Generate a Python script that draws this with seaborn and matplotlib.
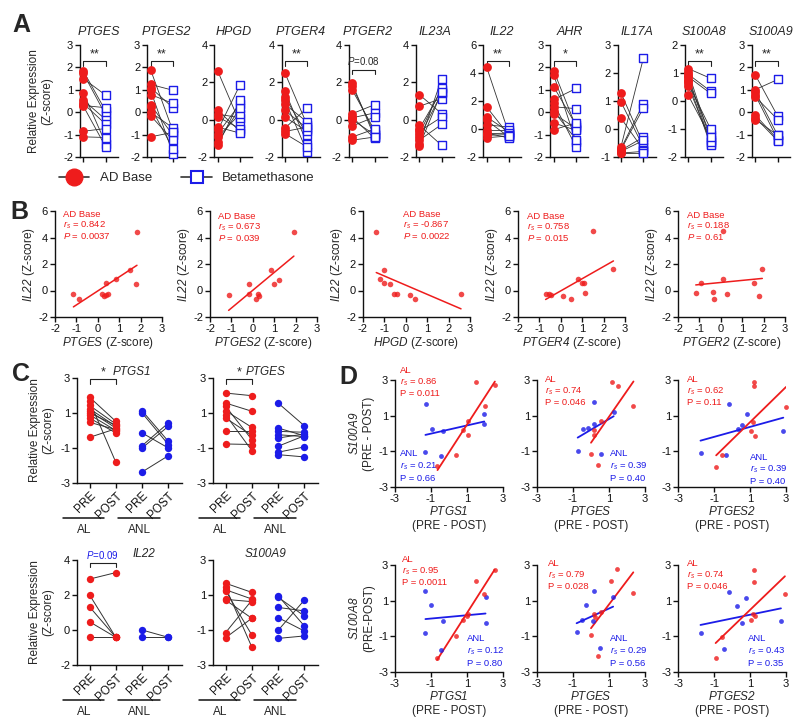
import numpy as np
import pandas as pd
import matplotlib
matplotlib.use('Agg')
import matplotlib.pyplot as plt
import matplotlib.transforms as mtransforms
from matplotlib.lines import Line2D
import seaborn as sns

sns.set_style('ticks')
plt.rcParams['font.family'] = ['Liberation Sans', 'DejaVu Sans']
plt.rcParams['mathtext.fontset'] = 'custom'
plt.rcParams['mathtext.rm'] = 'Liberation Sans:italic'
plt.rcParams['mathtext.it'] = 'Liberation Sans:italic'
plt.rcParams['mathtext.bf'] = 'Liberation Sans:bold'
plt.rcParams['axes.unicode_minus'] = False

RED = '#ee1c1c'
BLUE = '#1c1ce8'

# ---------------- Panel A data (AD Base -> Betamethasone, paired) ----------------
a_genes = ['PTGES', 'PTGES2', 'HPGD', 'PTGER4', 'PTGER2', 'IL23A', 'IL22', 'AHR', 'IL17A', 'S100A8', 'S100A9']
ptges_base = [1.84, 1.73, 1.50, 0.87, 0.54, 0.39, 0.30, 0.27, -0.85, -1.10]
ptges_beta = [0.05, -0.13, 0.76, -1.40, -0.33, -0.54, 0.20, -1.55, -0.73, -1.13]
ptges2_base = [1.90, 1.24, 1.10, 0.98, 0.79, 0.34, 0.24, 0.00, -0.15, -1.10]
ptges2_beta = [-0.84, 0.98, 0.20, -1.85, 0.39, -1.03, -1.63, -0.70, -1.25, -0.90]
hpgd_base = [2.60, 0.50, 0.30, 0.15, -0.40, -0.57, -0.75, -0.93, -1.20, -1.38]
hpgd_beta = [-0.20, -0.63, 0.10, -0.48, -0.72, 1.88, 0.86, 0.32, 0.63, 1.04]
ptger4_base = [2.50, 1.52, 1.22, 1.04, 0.82, 0.50, 0.14, -0.45, -0.63, -0.75]
ptger4_beta = [-0.30, -1.29, -0.84, -1.74, -0.13, -0.48, -0.63, 0.63, -0.40, -1.47]
ptger2_base = [1.94, 1.80, 1.60, 0.32, 0.14, 0.10, 0.00, -0.34, -0.93, -1.10]
ptger2_beta = [-0.93, -0.75, -0.57, 0.80, -1.00, 0.36, -0.80, 0.14, -0.50, -0.93]
il23a_base = [1.34, 0.72, -0.30, -0.48, -0.63, -0.75, -0.93, -1.10, -1.29, -1.41]
il23a_beta = [0.32, 1.13, -1.38, 1.58, 0.14, 1.70, 1.43, -0.25, 2.20, 1.50]
il22_base = [4.44, 1.58, 0.86, 0.62, 0.30, -0.10, -0.29, -0.33, -0.45, -0.62]
il22_beta = [-0.33, -0.45, -0.20, -0.57, 0.14, -0.10, -0.64, -0.30, -0.40, -0.50]
ahr_base = [1.85, 1.66, 1.13, 0.57, 0.39, 0.24, 0.04, -0.06, -0.48, -0.78]
ahr_beta = [-0.66, -1.33, -0.58, 1.06, -1.55, 0.16, -1.22, -0.73, -0.81, -0.48]
il17a_base = [1.29, 0.97, 0.39, -0.64, -0.70, -0.74, -0.76, -0.80, -0.86, -0.86]
il17a_beta = [-0.53, -0.64, -0.74, 2.52, 0.91, 0.75, -0.29, -0.41, -0.80, -0.86]
s100a8_base = [1.16, 1.04, 0.96, 0.90, 0.87, 0.75, 0.70, 0.63, 0.53, 0.21]
s100a8_beta = [0.81, -1.38, 0.35, -1.52, 0.27, -1.22, -1.58, -0.99, -1.45, -1.30]
s100a9_base = [1.66, 1.01, 0.91, 0.76, 0.69, -0.13, -0.24, -0.33]
s100a9_beta = [-0.18, 1.46, -1.03, -1.22, -0.33, -1.22, -1.28, -1.03]
a_sig = ['**', '**', '', '**', '$P$=0.08', '', '**', '*', '', '**', '**']

# ---------------- Panel B data (AD Base, x gene vs IL22) ----------------
b_genes = ['PTGES', 'PTGES2', 'HPGD', 'PTGER4', 'PTGER2']
b_ptges_x = [-1.14, -0.88, 0.19, 0.30, 0.39, 0.47, 0.39, 0.86, 1.52, 1.78, 1.83]
b_ptges_y = [-0.28, -0.65, -0.25, -0.45, -0.35, -0.25, 0.55, 0.85, 1.58, 0.50, 4.44]
b_ptges2_x = [-1.13, -0.17, -0.17, 0.14, 0.22, 0.30, 0.86, 0.98, 1.22, 1.92]
b_ptges2_y = [-0.33, 0.48, -0.25, -0.65, -0.28, -0.45, 1.55, 0.50, 0.80, 4.41]
b_hpgd_x = [-1.38, -1.00, -1.20, -1.00, -0.75, -0.55, -0.40, 0.20, 0.45, 2.58]
b_hpgd_y = [4.44, 1.58, 0.85, 0.55, 0.50, -0.25, -0.30, -0.35, -0.65, -0.25]
b_ptger4_x = [-0.71, -0.57, -0.45, 0.12, 0.48, 0.79, 0.99, 1.10, 1.13, 1.49, 2.46]
b_ptger4_y = [-0.25, -0.25, -0.33, -0.40, -0.65, 0.88, 0.55, 0.55, -0.20, 4.48, 1.60]
b_ptger2_x = [-1.17, -0.94, -0.36, -0.33, 0.08, 0.08, 0.31, 1.56, 1.80, 1.94]
b_ptger2_y = [-0.20, 0.55, -0.15, -0.65, 0.90, 4.50, -0.25, 0.60, -0.38, 1.60]
b_rs = ['0.842', '0.673', '-0.867', '0.758', '0.188']
b_p = ['0.0037', '0.039', '0.0022', '0.015', '0.61']

# ---------------- Panel C data (PRE / POST; AL and ANL) ----------------
c_genes = ['PTGS1', 'PTGES', 'IL22', 'S100A9']
c_groups = ['AL', 'ANL']
c_ticklabels = ['PRE', 'POST', 'PRE', 'POST']
ptgs1_al_pre = [1.90, 1.67, 1.43, 1.24, 1.10, 1.00, 0.90, 0.71, 0.47, -0.39]
ptgs1_al_post = [0.52, -1.82, 0.37, 0.24, 0.14, 0.30, 0.00, -0.14, 0.05, 0.10]
ptgs1_anl_pre = [1.13, 1.00, -0.14, -0.87, -1.00, -2.37]
ptgs1_anl_post = [-0.62, -0.80, -1.00, 0.43, 0.24, -1.44]
cptges_al_pre = [2.14, 1.57, 1.38, 1.13, 0.90, 0.71, -0.05, -0.77]
cptges_al_post = [1.99, 1.10, -0.52, 0.18, -1.15, -0.28, -0.05, -0.80]
cptges_anl_pre = [1.57, 0.14, -0.05, -0.24, -0.43, -0.90, -1.24, -1.38]
cptges_anl_post = [0.27, -0.30, -0.10, -0.35, -0.20, -0.30, -0.94, -1.51]
cil22_al_pre = [2.91, 2.00, 1.32, 0.47, -0.42]
cil22_al_post = [3.28, -0.42, -0.42, -0.42, -0.42]
cil22_anl_pre = [0.00, -0.42]
cil22_anl_post = [-0.42, -0.42]
cs100a9_al_pre = [1.67, 1.44, 1.30, 1.25, 0.75, 0.71, -1.15, -1.44]
cs100a9_al_post = [1.15, -1.98, 0.77, -1.29, 0.62, -0.33, 0.70, -0.33]
cs100a9_anl_pre = [0.96, 0.87, 0.29, -0.29, -1.02, -1.48]
cs100a9_anl_post = [-0.77, -0.20, 0.09, -1.06, 0.71, -1.34]

# ---------------- Panel D data (PRE - POST differences) ----------------
d_xgenes = ['PTGS1', 'PTGES', 'PTGES2']
# S100A9 row
d9_al_x = [[1.49, 2.55, 2.00, 0.79, 1.03, 1.03, 0.39, -0.64],
           [1.14, 1.48, 2.36, 0.55, 0.19, 0.19, 0.00, 0.37],
           [1.22, 1.22, 3.00, 1.15, 1.06, 1.30, -0.54, -0.88]]
d9_al_y = [[2.90, 2.70, 1.57, 0.21, 0.68, -0.07, -1.19, -1.80],
           [2.87, 2.68, 1.57, 0.68, 0.21, -0.07, -1.15, -1.79],
           [2.87, 2.68, 1.50, 0.62, 0.15, -0.12, -1.22, -1.88]]
d9_anl_x = [[-1.27, -0.97, -0.32, 1.96, 1.96, -1.31, -0.47],
            [0.18, -0.46, -0.18, 0.14, 1.26, -0.74, 0.55],
            [-0.14, 0.82, 0.56, 0.32, -1.75, -0.36, 2.85]]
d9_anl_y = [[1.67, 0.27, 0.16, 1.11, 0.53, -1.04, -1.24],
            [1.75, 0.25, 0.31, 0.55, 1.19, -0.96, -1.15],
            [1.64, 1.08, 0.49, 0.25, -1.08, -1.23, 0.12]]
d9_al_rs = ['0.86', '0.74', '0.62']
d9_al_p = ['0.011', '0.046', '0.11']
d9_anl_rs = ['0.21', '0.39', '0.39']
d9_anl_p = ['0.66', '0.40', '0.40']
# S100A8 row
d8_al_x = [[2.53, 1.50, 1.97, 1.03, 0.75, 0.38, -0.66, 1.00],
           [1.45, 1.13, 2.35, 0.14, 0.55, 0.00, 0.37, 0.20],
           [1.21, 1.21, 2.94, 1.15, 1.30, 1.06, -0.56, -0.91]]
d8_al_y = [[2.72, 2.10, 1.35, 0.23, -0.06, -0.99, -2.21, 0.12],
           [2.76, 2.12, 1.41, 0.23, 0.34, -0.94, -2.12, 0.10],
           [2.72, 2.06, 1.35, 0.28, 0.13, -0.06, -1.03, -2.19]]
d8_anl_x = [[-1.31, -0.98, -0.32, -1.31, -0.47, 2.03, 2.03],
            [0.14, -0.27, -0.51, 0.10, 1.23, -0.80, 0.48],
            [-0.18, 0.75, 0.27, 0.54, -1.75, -0.42, 2.72]]
d8_anl_y = [[1.54, 0.75, -0.13, -0.81, -1.74, 1.22, -0.23],
            [1.54, 0.75, -0.06, -0.15, 1.18, -0.75, -1.63],
            [1.46, 1.13, 0.69, -0.23, -0.81, -1.69, -0.13]]
d8_al_rs = ['0.95', '0.79', '0.74']
d8_al_p = ['0.0011', '0.028', '0.046']
d8_anl_rs = ['0.12', '0.29', '0.43']
d8_anl_p = ['0.80', '0.56', '0.35']

# ======================================================================
W, H = 800, 726
fig = plt.figure(figsize=(8, 7.26), dpi=100)


def add_ax(l, t, r, b):
    return fig.add_axes([l / W, 1 - b / H, (r - l) / W, (b - t) / H])


def style_ax(ax, labelsize=8):
    for s in ['top', 'right']:
        ax.spines[s].set_visible(False)
    for s in ['left', 'bottom']:
        ax.spines[s].set_linewidth(1.0)
        ax.spines[s].set_color('#111111')
    ax.tick_params(width=1.0, length=3.5, labelsize=labelsize, pad=1.5,
                   direction='out', colors='#111111')


def paired_lines(ax, x0, x1, pre, post, lw=0.6):
    n = len(pre)
    df = pd.DataFrame({'pid': list(range(n)) * 2,
                       'x': [x0] * n + [x1] * n,
                       'y': list(pre) + list(post)})
    sns.lineplot(data=df, x='x', y='y', units='pid', estimator=None,
                 color='#333333', lw=lw, ax=ax, legend=False)


def bracket(ax, x0, x1, y, drop, trans=None):
    t = trans if trans is not None else ax.transData
    ax.plot([x0, x0, x1, x1], [y - drop, y, y, y - drop], color='#222222',
            lw=0.8, transform=t, clip_on=False)


def ann(ax, x, y, lines, color, dy, fs=6.8):
    for i, s in enumerate(lines):
        ax.text(x, y - i * dy, s, transform=ax.transAxes, color=color,
                fontsize=fs, ha='left', va='center')

# ---------------- Panel A ----------------
a_base = [ptges_base, ptges2_base, hpgd_base, ptger4_base, ptger2_base, il23a_base,
          il22_base, ahr_base, il17a_base, s100a8_base, s100a9_base]
a_beta = [ptges_beta, ptges2_beta, hpgd_beta, ptger4_beta, ptger2_beta, il23a_beta,
          il22_beta, ahr_beta, il17a_beta, s100a8_beta, s100a9_beta]
a_ylim = [(-2, 3, 1), (-2, 3, 1), (-2, 4, 2), (-2, 4, 2), (-2, 4, 2), (-2, 4, 2),
          (-2, 6, 2), (-2, 3, 1), (-1, 3, 1), (-2, 2, 1), (-2, 3, 1)]
for i, g in enumerate(a_genes):
    l = 80 + 67.2 * i
    ax = add_ax(l, 45, l + 38, 157)
    style_ax(ax)
    paired_lines(ax, 0, 1, a_base[i], a_beta[i])
    sns.scatterplot(x=[0] * len(a_base[i]), y=a_base[i], ax=ax, color=RED, s=40,
                    linewidth=0, zorder=3, clip_on=False)
    sns.scatterplot(x=[1] * len(a_beta[i]), y=a_beta[i], ax=ax, marker='s', s=30,
                    color='white', edgecolor=BLUE, linewidth=1.0, zorder=3, clip_on=False)
    lo, hi, st = a_ylim[i]
    ax.set_ylim(lo, hi)
    ax.set_yticks(np.arange(lo, hi + 0.01, st))
    ax.set_xlim(-0.15, 1.55)
    ax.set_xticks([0, 1])
    ax.set_xticklabels([])
    ax.set_xlabel('')
    ax.set_ylabel('')
    ax.text(0.5, 1.12, g, transform=ax.transAxes, ha='center', va='center',
            fontstyle='italic', fontsize=9)
    tr = mtransforms.blended_transform_factory(ax.transData, ax.transAxes)
    if a_sig[i]:
        if 'P' in a_sig[i]:
            bracket(ax, 0, 1, 0.78, 0.04, tr)
            ax.text(0.5, 0.86, a_sig[i], transform=tr, ha='center', va='center', fontsize=7)
        else:
            bracket(ax, 0, 1, 0.855, 0.04, tr)
            ax.text(0.5, 0.86, a_sig[i], transform=tr, ha='center', va='bottom', fontsize=9)
    if i == 0:
        ax.set_ylabel('Relative Expression\n(Z-score)', fontsize=8.5, labelpad=7)

handles = [Line2D([0], [0], color='#333333', lw=1.2, marker='o', markersize=12,
                  markerfacecolor=RED, markeredgecolor=RED),
           Line2D([0], [0], color='#333333', lw=1.2, marker='s', markersize=9,
                  markerfacecolor='white', markeredgecolor=BLUE, markeredgewidth=1.5)]
fig.legend(handles, ['AD Base', 'Betamethasone'], loc='center',
           bbox_to_anchor=(187 / W, 1 - 178 / H), ncol=2, frameon=False,
           fontsize=9.5, handlelength=2.3, columnspacing=2.2, handletextpad=0.8)

# ---------------- Panel B ----------------
b_x = [b_ptges_x, b_ptges2_x, b_hpgd_x, b_ptger4_x, b_ptger2_x]
b_y = [b_ptges_y, b_ptges2_y, b_hpgd_y, b_ptger4_y, b_ptger2_y]
b_lefts = [55, 210, 363, 518, 678]
b_ann_x = [0.075, 0.075, 0.37, 0.08, 0.08]
b_ann_y = [0.97, 0.95, 0.97, 0.95, 0.96]
for i, g in enumerate(b_genes):
    l = b_lefts[i]
    ax = add_ax(l, 211, l + 107, 317)
    style_ax(ax)
    sns.regplot(x=b_x[i], y=b_y[i], ax=ax, ci=None, color=RED,
                scatter_kws=dict(s=16, linewidths=0, clip_on=False, zorder=3),
                line_kws=dict(lw=1.1))
    ax.set_xlim(-2, 3)
    ax.set_ylim(-2, 6)
    ax.set_xticks(np.arange(-2, 4, 1))
    ax.set_yticks(np.arange(-2, 7, 2))
    ax.set_xlabel(r'$\mathit{' + g + '}$ (Z-score)', fontsize=8.5, labelpad=1)
    ax.set_ylabel(r'$\mathit{IL22}$ (Z-score)', fontsize=8.5, labelpad=1)
    ann(ax, b_ann_x[i], b_ann_y[i],
        ['AD Base', r'$r_s$ = ' + b_rs[i], r'$P$ = ' + b_p[i]], RED, 0.104)

# ---------------- Panel C ----------------
c_data = [(ptgs1_al_pre, ptgs1_al_post, ptgs1_anl_pre, ptgs1_anl_post),
          (cptges_al_pre, cptges_al_post, cptges_anl_pre, cptges_anl_post),
          (cil22_al_pre, cil22_al_post, cil22_anl_pre, cil22_anl_post),
          (cs100a9_al_pre, cs100a9_al_post, cs100a9_anl_pre, cs100a9_anl_post)]
c_pos = [(77, 378), (213, 378), (77, 560), (213, 560)]
c_ylims = [(-3, 3, 2), (-3, 3, 2), (-2, 4, 2), (-3, 3, 2)]
c_title_x = [0.52, 0.5, 0.64, 0.5]
for i, g in enumerate(c_genes):
    l, t = c_pos[i]
    ax = add_ax(l, t, l + 105, t + 105)
    style_ax(ax)
    alpre, alpost, anpre, anpost = c_data[i]
    paired_lines(ax, 0, 1, alpre, alpost, lw=0.7)
    paired_lines(ax, 2, 3, anpre, anpost, lw=0.7)
    sns.scatterplot(x=[0] * len(alpre) + [1] * len(alpost), y=list(alpre) + list(alpost),
                    ax=ax, color=RED, s=28, linewidth=0, zorder=3, clip_on=False)
    sns.scatterplot(x=[2] * len(anpre) + [3] * len(anpost), y=list(anpre) + list(anpost),
                    ax=ax, color=BLUE, s=28, linewidth=0, zorder=3, clip_on=False)
    lo, hi, st = c_ylims[i]
    ax.set_ylim(lo, hi)
    ax.set_yticks(np.arange(lo, hi + 0.01, st))
    ax.set_xlim(-0.48, 3.52)
    ax.set_xticks([0, 1, 2, 3])
    ax.set_xticklabels(c_ticklabels, rotation=45, ha='right', rotation_mode='anchor',
                       fontsize=8.5)
    ax.set_xlabel('')
    ax.set_ylabel('')
    ax.text(c_title_x[i], 1.06, g, transform=ax.transAxes, ha='center', va='center',
            fontstyle='italic', fontsize=8.5)
    tr = mtransforms.blended_transform_factory(ax.transData, ax.transAxes)
    for (x0, x1, xt, lab) in [(-1.0, 0.55, -0.2, 'AL'), (1.1, 2.7, 1.9, 'ANL')]:
        ax.plot([x0, x1], [-0.333, -0.333], color='#111111', lw=1.1,
                transform=tr, clip_on=False)
        ax.text(xt, -0.45, lab, transform=tr, ha='center', va='center', fontsize=8.5)
    if i in (0, 2):
        ax.set_ylabel('Relative Expression\n(Z-score)', fontsize=8.5, labelpad=4)
    if i in (0, 1):
        bracket(ax, 0, 1, 2.92, 0.25)
        ax.text(0.5, 2.95, '*', ha='center', va='bottom', fontsize=9)
    if i == 2:
        bracket(ax, 0, 1, 3.83, 0.22)
        ax.text(0.5, 3.92, '$P$=0.09', ha='center', va='bottom', fontsize=7, color=BLUE)

# ---------------- Panel D ----------------
d_rows = [
    (380, r'$\mathit{S100A9}$' + '\n(PRE - POST)', d9_al_x, d9_al_y, d9_anl_x, d9_anl_y,
     d9_al_rs, d9_al_p, d9_anl_rs, d9_anl_p,
     [(0.05, 1.085), (0.075, 1.0), (0.08, 1.0)], [(0.05, 0.31), (0.68, 0.31), (0.67, 0.28)]),
    (565, r'$\mathit{S100A8}$' + '\n(PRE-POST)', d8_al_x, d8_al_y, d8_anl_x, d8_anl_y,
     d8_al_rs, d8_al_p, d8_anl_rs, d8_anl_p,
     [(0.065, 1.05), (0.1, 1.01), (0.08, 1.01)], [(0.67, 0.31), (0.68, 0.31), (0.65, 0.31)]),
]
d_lefts = [395, 537, 678]
for (top, ylab, alx, aly, anx, any_, alrs, alp, anrs, anp, alpos, anpos) in d_rows:
    for j, g in enumerate(d_xgenes):
        l = d_lefts[j]
        ax = add_ax(l, top, l + 108, top + 107)
        style_ax(ax)
        sns.regplot(x=anx[j], y=any_[j], ax=ax, ci=None, color=BLUE,
                    scatter_kws=dict(s=12, linewidths=0, clip_on=False, zorder=3),
                    line_kws=dict(lw=1.3))
        sns.regplot(x=alx[j], y=aly[j], ax=ax, ci=None, color=RED,
                    scatter_kws=dict(s=12, linewidths=0, clip_on=False, zorder=3),
                    line_kws=dict(lw=1.3))
        ax.set_xlim(-3, 3)
        ax.set_ylim(-3, 3)
        ax.set_xticks([-3, -1, 1, 3])
        ax.set_yticks([-3, -1, 1, 3])
        ax.set_xlabel(r'$\mathit{' + g + '}$' + '\n(PRE - POST)', fontsize=8.5, labelpad=1)
        ax.set_ylabel(ylab if j == 0 else '', fontsize=8.5, labelpad=2)
        ann(ax, alpos[j][0], alpos[j][1], ['AL', r'$r_s$ = ' + alrs[j], 'P = ' + alp[j]],
            RED, 0.107)
        ann(ax, anpos[j][0], anpos[j][1], ['ANL', r'$r_s$ = ' + anrs[j], 'P = ' + anp[j]],
            BLUE, 0.115)

# ---------------- Panel letters ----------------
for lab, x, y in [('A', 21, 25), ('B', 19, 212), ('C', 21, 374), ('D', 348, 377)]:
    fig.text(x / W, 1 - y / H, lab, fontsize=18, fontweight='bold', ha='center', va='center')

fig.savefig('out.png', dpi=100)
